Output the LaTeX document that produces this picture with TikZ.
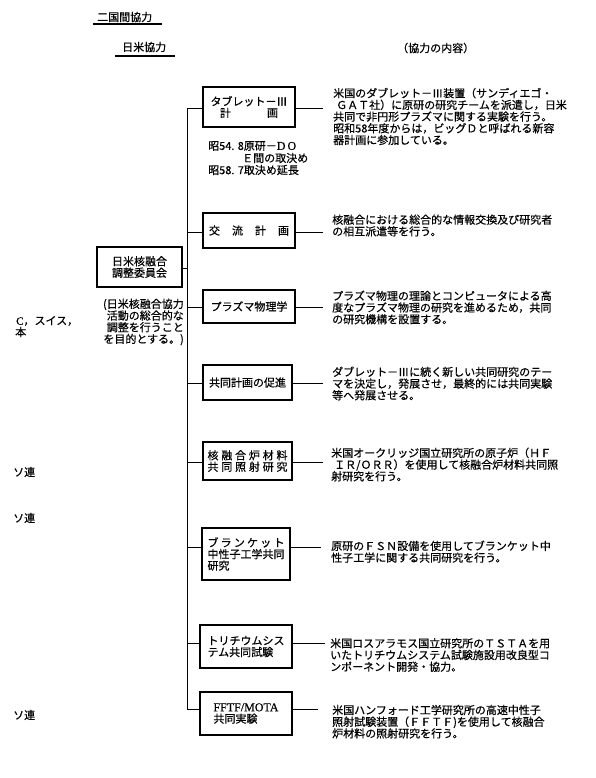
\documentclass[tikz,border=0pt]{standalone}
\usepackage{fontspec}
\setmainfont{Noto Sans CJK JP}[FakeBold=0.5]
\newfontfamily\lat{Liberation Serif}[FakeBold=0.5]
\newcommand\descfont{\fontsize{11}{11.7}\selectfont}
\newcommand\boxfont{\fontsize{11}{11.5}\selectfont}
\tikzset{
  box/.style={draw, line width=1.5pt, inner sep=0pt, font=\boxfont},
  conn/.style={line width=0.8pt},
  desc/.style={anchor=west, inner sep=0pt, align=left, font=\descfont},
  lbl/.style={anchor=west, inner sep=0pt, font=\descfont},
  uline/.style={line width=1.1pt},
}
\begin{document}
\begin{tikzpicture}[x=1pt,y=-1pt]
\useasboundingbox (0,0) rectangle (595,778);
% headers
\node[lbl] (h1) at (97,17) {二国間協力};
\coordinate (u1a) at (93,24); \coordinate (u1b) at (162,24);
\draw[uline] (u1a) -- (u1b);
\node[lbl] (h2) at (122,47) {日米協力};
\coordinate (u2a) at (115,56); \coordinate (u2b) at (175,56);
\draw[uline] (u2a) -- (u2b);
\node[lbl] (h3) at (397,48) {（協力の内容）};
% left fragments
\node[lbl] (f1) at (16,321) {{\lat C}，スイス，};
\node[lbl] (f2) at (15,332) {本};
\node[lbl] (f3) at (13,472) {ソ連};
\node[lbl] (f4) at (13,518) {ソ連};
\node[lbl] (f5) at (13,715) {ソ連};
% committee
\node[box, minimum width=85pt, minimum height=40pt, align=center] (c) at (139.5,267) {日米核融合\\調整委員会};
\node[desc, anchor=east, align=right] (cn) at (184,322) {(日米核融合協力\\活動の総合的な\\調整を行うこと\\を目的とする。)};
% boxes
\node[box, minimum width=92pt, minimum height=40pt, align=center] (b1) at (249,107) {タブレット－Ⅲ\\計\hspace{36pt}画};
\node[box, minimum width=92pt, minimum height=35pt] (b2) at (249,230.5) {\makebox[80pt]{交\hfill 流\hfill 計\hfill 画}};
\node[box, minimum width=92pt, minimum height=33pt] (b3) at (249,306.5) {プラズマ物理学};
\node[box, minimum width=89pt, minimum height=35pt] (b4) at (247.5,382.5) {共同計画の促進};
\node[box, minimum width=89pt, minimum height=38pt, align=left] (b5) at (247.5,461) {\makebox[80pt]{核\hfill 融\hfill 合\hfill 炉\hfill 材\hfill 料}\\\makebox[80pt]{共\hfill 同\hfill 照\hfill 射\hfill 研\hfill 究}};
\node[box, minimum width=88pt, minimum height=52pt, align=left] (b6) at (246,554) {\makebox[77pt]{ブ\hfill ラ\hfill ン\hfill ケ\hfill ッ\hfill ト}\\中性子工学共同\\研究};
\node[box, minimum width=92pt, minimum height=43pt, align=left] (b7) at (246,646.5) {トリチウムシス\\テム共同試験};
\node[box, minimum width=92pt, minimum height=43pt, align=left] (b8) at (246,713.5) {{\lat\fontsize{12}{12}\selectfont FFTF/MOTA}\\共同実験};
% notes under b1
\node[lbl] (n1) at (208,146) {昭54. 8原研－{\lat\fontsize{12}{12}\selectfont D\,O}};
\node[lbl] (n2) at (242,158) {Ｅ間の取決め};
\node[lbl] (n3) at (208,170) {昭58. 7取決め延長};
% descriptions
\node[desc] (d1) at (333,116.5) {米国のダブレット－Ⅲ装置（サンディエゴ・\\\hspace{3pt}ＧＡＴ社）に原研の研究チームを派遣し，日米\\共同で非円形プラズマに関する実験を行う。\\昭和58年度からは，ビッグＤと呼ばれる新容\\器計画に参加している。};
\node[desc] (d2) at (332,225.5) {核融合における総合的な情報交換及び研究者\\の相互派遣等を行う。};
\node[desc] (d3) at (332,307.5) {プラズマ物理の理論とコンピュータによる高\\度なプラズマ物理の研究を進めるため，共同\\の研究機構を設置する。};
\node[desc] (d4) at (332,383.5) {ダブレット－Ⅲに続く新しい共同研究のテー\\マを決定し，発展させ，最終的には共同実験\\等へ発展させる。};
\node[desc] (d5) at (331,464.5) {米国オークリッジ国立研究所の原子炉（ＨＦ\\\hspace{3pt}ＩＲ/ＯＲＲ）を使用して核融合炉材料共同照\\射研究を行う。};
\node[desc] (d6) at (331,551.7) {原研のＦＳＮ設備を使用してブランケット中\\性子工学に関する共同研究を行う。};
\node[desc] (d7) at (330,655) {米国ロスアラモス国立研究所のＴＳＴＡを用\\いたトリチウムシステム試験施設用改良型コ\\ンポーネント開発・協力。};
\node[desc] (d8) at (332,721.7) {米国ハンフォード工学研究所の高速中性子\\照射試験装置（ＦＦＴＦ)を使用して核融合\\炉材料の照射研究を行う。};
% trunk junctions
\coordinate (j1) at (187,108);
\coordinate (j2) at (187,232);
\coordinate (j3) at (187,307);
\coordinate (jc) at (187,268);
\coordinate (j4) at (187,383);
\coordinate (j5) at (187,462);
\coordinate (j6) at (187,547);
\coordinate (j7) at (187,643);
\coordinate (j8) at (187,709);
\draw[conn] (j1) -- (j8);
\draw[conn] (c.east |- jc) -- (jc);
% right ends
\coordinate (e1) at (323,108);
\coordinate (e2) at (323,232);
\coordinate (e3) at (323,307);
\coordinate (e4) at (323,383);
\coordinate (e5) at (323,462);
\coordinate (e6) at (321,547);
\coordinate (e7) at (325,643);
\coordinate (e8) at (318,709);
\foreach \i in {1,...,8}{
  \draw[conn] (j\i) -- (j\i -| b\i.west);
  \draw[conn] (b\i.east |- j\i) -- (e\i);
}
\end{tikzpicture}
\end{document}
